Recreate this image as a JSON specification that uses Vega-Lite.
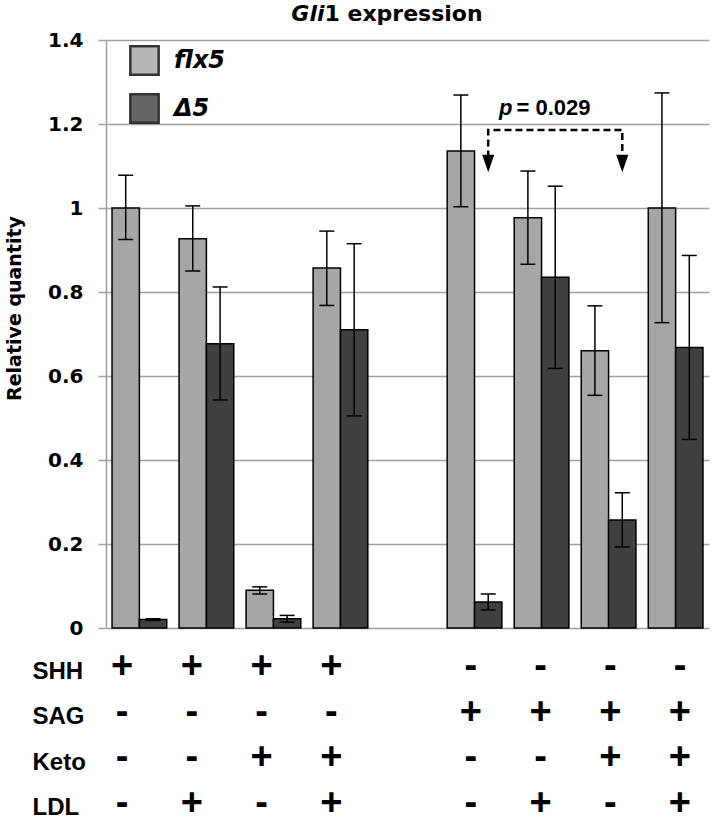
{
  "$schema": "https://vega.github.io/schema/vega-lite/v6.json",
  "background": "white",
  "padding": {"left": 5, "top": 3, "right": 5, "bottom": 5},
  "config": {"view": {"stroke": null}},
  "bounds": "flush",
  "spacing": 30,
  "resolve": {"scale": {"x": "independent", "y": "independent"}},
  "datasets": {
    "bars": [
      {"g": "1", "s": "flx5", "v": 1.0, "lo": 0.925, "hi": 1.078},
      {"g": "1", "s": "Δ5", "v": 0.02, "lo": 0.018, "hi": 0.022},
      {"g": "2", "s": "flx5", "v": 0.927, "lo": 0.85, "hi": 1.005},
      {"g": "2", "s": "Δ5", "v": 0.677, "lo": 0.543, "hi": 0.812},
      {"g": "3", "s": "flx5", "v": 0.09, "lo": 0.081, "hi": 0.098},
      {"g": "3", "s": "Δ5", "v": 0.022, "lo": 0.014, "hi": 0.03},
      {"g": "4", "s": "flx5", "v": 0.857, "lo": 0.768, "hi": 0.945},
      {"g": "4", "s": "Δ5", "v": 0.71, "lo": 0.505, "hi": 0.915},
      {"g": "6", "s": "flx5", "v": 1.136, "lo": 1.003, "hi": 1.269},
      {"g": "6", "s": "Δ5", "v": 0.062, "lo": 0.043, "hi": 0.081},
      {"g": "7", "s": "flx5", "v": 0.977, "lo": 0.866, "hi": 1.088},
      {"g": "7", "s": "Δ5", "v": 0.835, "lo": 0.618, "hi": 1.052},
      {"g": "8", "s": "flx5", "v": 0.66, "lo": 0.554, "hi": 0.767},
      {"g": "8", "s": "Δ5", "v": 0.257, "lo": 0.193, "hi": 0.322},
      {"g": "9", "s": "flx5", "v": 1.0, "lo": 0.727, "hi": 1.274},
      {"g": "9", "s": "Δ5", "v": 0.668, "lo": 0.449, "hi": 0.887}
    ],
    "bracket": [
      {"g": "6", "s": "Δ5", "v": 1.12, "o": 1},
      {"g": "6", "s": "Δ5", "v": 1.186, "o": 2},
      {"g": "8", "s": "Δ5", "v": 1.186, "o": 3},
      {"g": "8", "s": "Δ5", "v": 1.12, "o": 4}
    ],
    "heads": [
      {"g": "6", "s": "Δ5", "v": 1.106},
      {"g": "8", "s": "Δ5", "v": 1.106}
    ],
    "pA": [{"g": "7", "v": 1.221, "t": "p"}],
    "pB": [{"g": "7", "v": 1.221, "t": "= 0.029"}],
    "tA": [{"g": "5", "v": 1.4, "t": "Gli"}],
    "tB": [{"g": "5", "v": 1.4, "t": "1 expression"}],
    "table": [
      {"c": "1", "r": "SHH", "t": "+"}, {"c": "2", "r": "SHH", "t": "+"}, {"c": "3", "r": "SHH", "t": "+"}, {"c": "4", "r": "SHH", "t": "+"},
      {"c": "6", "r": "SHH", "t": "-"}, {"c": "7", "r": "SHH", "t": "-"}, {"c": "8", "r": "SHH", "t": "-"}, {"c": "9", "r": "SHH", "t": "-"},
      {"c": "1", "r": "SAG", "t": "-"}, {"c": "2", "r": "SAG", "t": "-"}, {"c": "3", "r": "SAG", "t": "-"}, {"c": "4", "r": "SAG", "t": "-"},
      {"c": "6", "r": "SAG", "t": "+"}, {"c": "7", "r": "SAG", "t": "+"}, {"c": "8", "r": "SAG", "t": "+"}, {"c": "9", "r": "SAG", "t": "+"},
      {"c": "1", "r": "Keto", "t": "-"}, {"c": "2", "r": "Keto", "t": "-"}, {"c": "3", "r": "Keto", "t": "+"}, {"c": "4", "r": "Keto", "t": "+"},
      {"c": "6", "r": "Keto", "t": "-"}, {"c": "7", "r": "Keto", "t": "-"}, {"c": "8", "r": "Keto", "t": "+"}, {"c": "9", "r": "Keto", "t": "+"},
      {"c": "1", "r": "LDL", "t": "-"}, {"c": "2", "r": "LDL", "t": "+"}, {"c": "3", "r": "LDL", "t": "-"}, {"c": "4", "r": "LDL", "t": "+"},
      {"c": "6", "r": "LDL", "t": "-"}, {"c": "7", "r": "LDL", "t": "+"}, {"c": "8", "r": "LDL", "t": "-"}, {"c": "9", "r": "LDL", "t": "+"}
    ]
  },
  "vconcat": [
    {
      "width": 603,
      "height": 588,
      "encoding": {
        "x": {"field": "g", "type": "nominal", "scale": {"domain": ["1", "2", "3", "4", "5", "6", "7", "8", "9"], "paddingInner": 0.184, "paddingOuter": 0.09}, "axis": null}
      },
      "layer": [
        {
          "data": {"name": "bars"},
          "mark": {"type": "bar", "stroke": "black", "strokeWidth": 1.5},
          "encoding": {
            "xOffset": {"field": "s", "type": "nominal", "scale": {"domain": ["flx5", "Δ5"]}},
            "y": {
              "field": "v", "type": "quantitative", "title": "Relative quantity",
              "scale": {"domain": [0, 1.4], "nice": false, "zero": true},
              "axis": {
                "values": [0, 0.2, 0.4, 0.6, 0.8, 1.0, 1.2, 1.4],
                "format": ".1~f",
                "grid": true, "gridColor": "#a0a0a0", "gridWidth": 1.5,
                "domain": true, "domainColor": "#a0a0a0", "domainWidth": 1.5,
                "ticks": true, "tickColor": "#a0a0a0", "tickSize": 8, "tickWidth": 1.5,
                "labelFont": "DejaVu Sans", "labelFontWeight": "bold", "labelFontSize": 20, "labelColor": "black", "labelPadding": 15,
                "titleFont": "DejaVu Sans", "titleFontWeight": "bold", "titleFontSize": 19, "titleColor": "black",
                "titleX": -92, "titleY": 268, "titleBaseline": "middle", "titleAlign": "center", "titleAngle": -90
              }
            },
            "color": {
              "field": "s", "type": "nominal",
              "scale": {"domain": ["flx5", "Δ5"], "range": ["#a6a6a6", "#404040"]},
              "legend": {
                "title": null, "orient": "none", "legendX": 23, "legendY": 5,
                "symbolType": "square", "symbolSize": 800, "symbolStrokeColor": "black", "symbolStrokeWidth": 2.5, "symbolOpacity": 0.8,
                "labelFont": "DejaVu Sans", "labelFontSize": 24, "labelFontStyle": "italic", "labelFontWeight": "bold", "labelColor": "black",
                "labelOffset": 14, "rowPadding": 9
              }
            }
          }
        },
        {
          "data": {"name": "bars"},
          "mark": {"type": "rule", "color": "black", "strokeWidth": 1.5},
          "encoding": {
            "xOffset": {"field": "s", "type": "nominal"},
            "y": {"field": "lo", "type": "quantitative", "title": "Relative quantity"},
            "y2": {"field": "hi"}
          }
        },
        {
          "data": {"name": "bars"},
          "mark": {"type": "tick", "orient": "horizontal", "size": 15, "thickness": 1.5, "color": "black", "opacity": 1},
          "encoding": {
            "xOffset": {"field": "s", "type": "nominal"},
            "y": {"field": "lo", "type": "quantitative", "title": "Relative quantity"}
          }
        },
        {
          "data": {"name": "bars"},
          "mark": {"type": "tick", "orient": "horizontal", "size": 15, "thickness": 1.5, "color": "black", "opacity": 1},
          "encoding": {
            "xOffset": {"field": "s", "type": "nominal"},
            "y": {"field": "hi", "type": "quantitative", "title": "Relative quantity"}
          }
        },
        {
          "data": {"name": "bracket"},
          "mark": {"type": "line", "color": "black", "strokeWidth": 2.5, "strokeDash": [7, 4]},
          "encoding": {
            "xOffset": {"field": "s", "type": "nominal"},
            "y": {"field": "v", "type": "quantitative", "title": "Relative quantity"},
            "order": {"field": "o", "type": "quantitative"}
          }
        },
        {
          "data": {"name": "heads"},
          "mark": {"type": "point", "shape": "M-0.7,-1L0.7,-1L0,1Z", "size": 300, "filled": true, "color": "black", "opacity": 1},
          "encoding": {
            "xOffset": {"field": "s", "type": "nominal"},
            "y": {"field": "v", "type": "quantitative", "title": "Relative quantity"}
          }
        },
        {
          "data": {"name": "pA"},
          "mark": {"type": "text", "font": "Liberation Sans", "fontWeight": "bold", "fontStyle": "italic", "fontSize": 22, "align": "right", "baseline": "alphabetic", "dx": -29, "color": "black"},
          "encoding": {
            "y": {"field": "v", "type": "quantitative", "title": "Relative quantity"},
            "text": {"field": "t"}
          }
        },
        {
          "data": {"name": "pB"},
          "mark": {"type": "text", "font": "Liberation Sans", "fontWeight": "bold", "fontSize": 22, "align": "left", "baseline": "alphabetic", "dx": -25, "color": "black"},
          "encoding": {
            "y": {"field": "v", "type": "quantitative", "title": "Relative quantity"},
            "text": {"field": "t"}
          }
        },
        {
          "data": {"name": "tA"},
          "mark": {"type": "text", "font": "DejaVu Sans", "fontWeight": "bold", "fontStyle": "italic", "fontSize": 22, "align": "right", "baseline": "alphabetic", "dx": -83, "dy": -19, "color": "black"},
          "encoding": {
            "y": {"field": "v", "type": "quantitative", "title": "Relative quantity"},
            "text": {"field": "t"}
          }
        },
        {
          "data": {"name": "tB"},
          "mark": {"type": "text", "font": "DejaVu Sans", "fontWeight": "bold", "fontSize": 22, "align": "left", "baseline": "alphabetic", "dx": -83, "dy": -19, "color": "black"},
          "encoding": {
            "y": {"field": "v", "type": "quantitative", "title": "Relative quantity"},
            "text": {"field": "t"}
          }
        }
      ]
    },
    {
      "width": 590,
      "height": 155,
      "data": {"name": "table"},
      "mark": {"type": "text", "font": "Liberation Sans", "fontWeight": "bold", "fontSize": 38, "color": "black"},
      "encoding": {
        "x": {"field": "c", "type": "nominal", "scale": {"type": "point", "domain": ["1", "2", "3", "4", "5", "6", "7", "8", "9"], "padding": 0.23}, "axis": null},
        "y": {
          "field": "r", "type": "nominal",
          "scale": {"type": "point", "domain": ["SHH", "SAG", "Keto", "LDL"], "padding": 0.2},
          "axis": {"title": null, "domain": false, "ticks": false, "grid": false, "labelAlign": "left", "labelPadding": 74, "labelFont": "Liberation Sans", "labelFontWeight": "bold", "labelFontSize": 24, "labelColor": "black", "labelOffset": 4, "labelBaseline": "middle"}
        },
        "text": {"field": "t"}
      }
    }
  ]
}
